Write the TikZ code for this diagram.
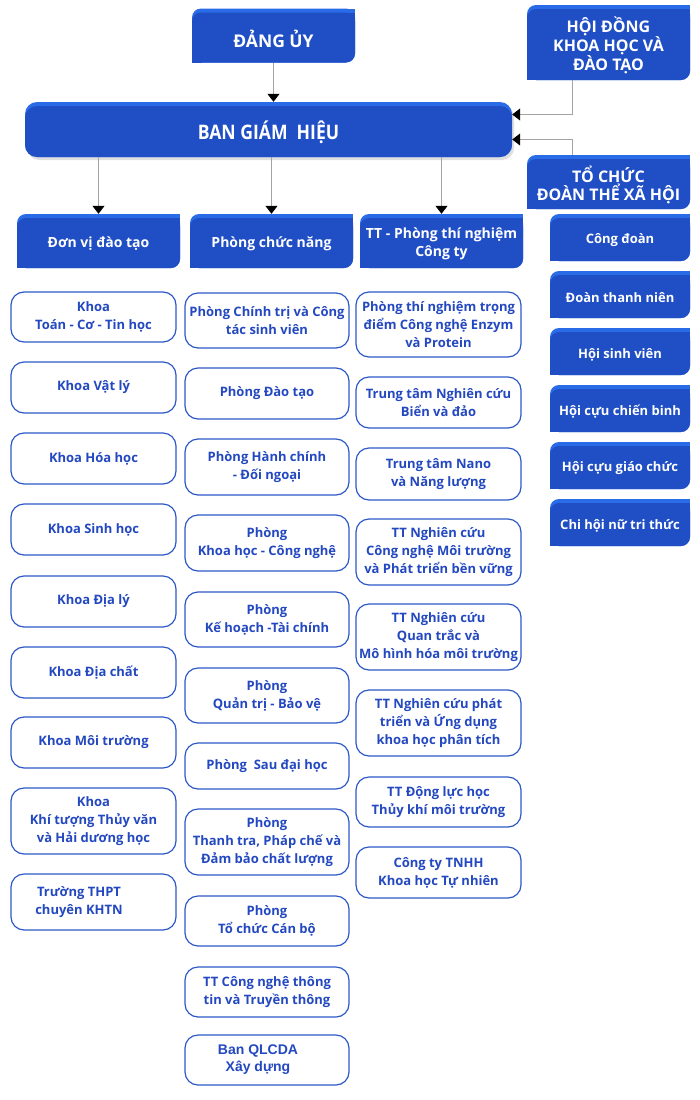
\documentclass[tikz,border=0pt]{standalone}
\usepackage{fontspec}
\setmainfont{Open Sans}
\newfontfamily\condfont{Open Sans}[FakeStretch=0.88]
\newfontfamily\arialfont{Liberation Sans}
\usetikzlibrary{arrows.meta, positioning, shadows}

\definecolor{boxblue}{HTML}{1F4EC5}
\definecolor{boxtop}{HTML}{2A6CE8}
\definecolor{unitline}{HTML}{2D58C8}
\definecolor{unittext}{HTML}{2348C0}
\definecolor{linkgray}{HTML}{A3A3A3}

% lower a line of text a little, keeping its size
\newcommand{\dn}[1]{\raisebox{-3pt}[\height][\depth]{#1}}

\tikzset{
  headbox/.style={rectangle, inner sep=0pt, align=center, text=white, fill=white,
    font=\bfseries\fontsize{14}{18}\selectfont, minimum width=163pt, minimum height=54pt,
    path picture={
      \fill[boxtop, rounded corners=9pt] (path picture bounding box.south west) rectangle (path picture bounding box.north east);
      \fill[boxtop] (path picture bounding box.north east) rectangle ++(-10pt,-10pt);
      \fill[boxblue, rounded corners=9pt] (path picture bounding box.south west) rectangle ([yshift=-4pt]path picture bounding box.north east);
      \fill[boxblue] ([yshift=-4pt]path picture bounding box.north east) rectangle ++(-10pt,-10pt);
      \fill[boxblue] (path picture bounding box.south west) rectangle ++(10pt,10pt);
    }},
  unionbox/.style={headbox, minimum width=140pt, minimum height=47pt, font=\bfseries\fontsize{13}{17}\selectfont},
  bghbox/.style={rectangle, rounded corners=12pt, fill=boxtop, text=white, inner sep=0pt,
    minimum width=487pt, minimum height=55pt, font=\condfont\bfseries\fontsize{20}{22}\selectfont,
    drop shadow={opacity=.25, shadow xshift=2pt, shadow yshift=-3pt},
    path picture={
      \fill[boxblue, rounded corners=12pt] (path picture bounding box.south west) rectangle ([yshift=-4pt]path picture bounding box.north east);
    }},
  unitbox/.style={rectangle, rounded corners=13pt, draw=unitline, line width=1.2pt, fill=white,
    text=unittext, align=center, inner sep=2pt, minimum width=165pt,
    font=\bfseries\fontsize{13}{18}\selectfont},
  conn/.style={draw=linkgray, line width=1pt, -{Triangle[width=12pt, length=8pt, black]}}
}

\begin{document}
\begin{tikzpicture}[x=1pt, y=1pt]
  \useasboundingbox (0,0) rectangle (700,-1100);

  % top level
  \node[headbox, font=\bfseries\fontsize{17.5}{20}\selectfont] (dang) at (273.5,-35.5) {\dn{ĐẢNG ỦY}};
  \node[headbox, minimum height=75pt, font=\bfseries\fontsize{16}{18}\selectfont] (hoidong) at (608.5,-42.5) {\dn{HỘI ĐỒNG}\\\dn{KHOA HỌC VÀ}\\\dn{ĐÀO TẠO}};
  \node[bghbox] (bgh) at (268.5,-129.5) {\dn{BAN GIÁM\ \ HIỆU}};
  \node[headbox, font=\bfseries\fontsize{16}{18}\selectfont] (tochuc) at (608.5,-182) {\dn{TỔ CHỨC}\\\dn{ĐOÀN THỂ XÃ HỘI}};

  % column heads
  \node[headbox] (donvi) at (98.5,-241) {\dn{Đơn vị đào tạo}};
  \node[headbox] (chucnang) at (271.5,-241) {\dn{Phòng chức năng}};
  \node[headbox] (trungtam) at (441.5,-241) {\dn{TT - Phòng thí nghiệm}\\\dn{Công ty}};

  % links
  \draw[conn] (dang.south) -- (dang.south |- bgh.north);
  \draw[conn] ([xshift=-36pt]hoidong.south) |- ([yshift=15pt]bgh.east);
  \draw[conn] ([xshift=-36pt]tochuc.north) |- ([yshift=-10pt]bgh.east);
  \draw[conn] (bgh.south -| donvi.north) -- (donvi.north);
  \draw[conn] (bgh.south -| chucnang.north) -- (chucnang.north);
  \draw[conn] (bgh.south -| trungtam.north) -- (trungtam.north);

  % doan the
  \foreach \name/\label [count=\i from 0] in {congdoan/Công đoàn, thanhnien/Đoàn thanh niên,
      sinhvien/Hội sinh viên, chienbinh/Hội cựu chiến binh, giaochuc/Hội cựu giáo chức,
      nutrithuc/Chi hội nữ tri thức}
    \node[unionbox] (\name) at (620,-237.5-57*\i) {\dn{\label}};

  % don vi dao tao
  \node[unitbox, minimum height=50pt] (toan) at (93.5,-317) {Khoa\\Toán - Cơ - Tin học};
  \node[unitbox, minimum height=51pt] (vatly) at (93.5,-387.5) {Khoa Vật lý};
  \node[unitbox, minimum height=51pt] (hoahoc) at (93.5,-458.5) {Khoa Hóa học};
  \node[unitbox, minimum height=51pt] (sinhhoc) at (93.5,-529.5) {Khoa Sinh học};
  \node[unitbox, minimum height=51pt] (dialy) at (93.5,-601.5) {Khoa Địa lý};
  \node[unitbox, minimum height=51pt] (diachat) at (93.5,-672.5) {Khoa Địa chất};
  \node[unitbox, minimum height=51pt] (moitruong) at (93.5,-742.5) {Khoa Môi trường};
  \node[unitbox, minimum height=66pt] (khituong) at (93.5,-821) {Khoa\\Khí tượng Thủy văn\\và Hải dương học};
  \node[unitbox, minimum height=56pt] (thpt) at (93.5,-902) {Trường THPT\hspace*{29pt}\\chuyên KHTN\hspace*{29pt}};

  % phong chuc nang
  \node[unitbox, minimum width=164pt, minimum height=55pt] (chinhtri) at (267,-320.5) {Phòng Chính trị và Công\\tác sinh viên};
  \node[unitbox, minimum width=164pt, minimum height=51pt] (daotao) at (267,-393.5) {Phòng Đào tạo};
  \node[unitbox, minimum width=164pt, minimum height=56pt] (hanhchinh) at (267,-467) {Phòng Hành chính\\- Đối ngoại};
  \node[unitbox, minimum width=164pt, minimum height=56pt] (khcn) at (267,-543) {Phòng\\Khoa học - Công nghệ};
  \node[unitbox, minimum width=164pt, minimum height=55pt] (kehoach) at (267,-619.5) {Phòng\\Kế hoạch -Tài chính};
  \node[unitbox, minimum width=164pt, minimum height=55pt] (quantri) at (267,-695.5) {Phòng\\Quản trị - Bảo vệ};
  \node[unitbox, minimum width=164pt, minimum height=46pt] (saudaihoc) at (267,-766) {Phòng\ \ Sau đại học};
  \node[unitbox, minimum width=164pt, minimum height=66pt] (thanhtra) at (267,-842) {Phòng\\Thanh tra, Pháp chế và\\Đảm bảo chất lượng};
  \node[unitbox, minimum width=164pt, minimum height=50pt] (tochucCB) at (267,-921) {Phòng\\Tổ chức Cán bộ};
  \node[unitbox, minimum width=164pt, minimum height=50pt] (cntt) at (267,-992) {TT Công nghệ thông\\tin và Truyền thông};
  \node[unitbox, minimum width=164pt, minimum height=50pt, font=\arialfont\bfseries\fontsize{14}{17}\selectfont] (qlcda) at (267,-1060) {Ban QLCDA\hspace*{18pt}\\Xây dựng\hspace*{18pt}};

  % trung tam
  \node[unitbox, minimum height=65pt] (enzym) at (438.5,-324.5) {Phòng thí nghiệm trọng\\điểm Công nghệ Enzym\\và Protein};
  \node[unitbox, minimum height=51pt] (biendao) at (438.5,-402.5) {Trung tâm Nghiên cứu\\Biển và đảo};
  \node[unitbox, minimum height=52pt] (nano) at (438.5,-474) {Trung tâm Nano\\và Năng lượng};
  \node[unitbox, minimum height=66pt] (cnmt) at (438.5,-552) {TT Nghiên cứu\\Công nghệ Môi trường\\và Phát triển bền vững};
  \node[unitbox, minimum height=66pt] (quantrac) at (438.5,-637) {TT Nghiên cứu\\Quan trắc và\\Mô hình hóa môi trường};
  \node[unitbox, minimum height=66pt] (phantich) at (438.5,-723) {TT Nghiên cứu phát\\triển và Ứng dụng\\khoa học phân tích};
  \node[unitbox, minimum height=50pt] (dongluc) at (438.5,-802) {TT Động lực học\\Thủy khí môi trường};
  \node[unitbox, minimum height=51pt] (congty) at (438.5,-872.5) {Công ty TNHH\\Khoa học Tự nhiên};
\end{tikzpicture}
\end{document}
